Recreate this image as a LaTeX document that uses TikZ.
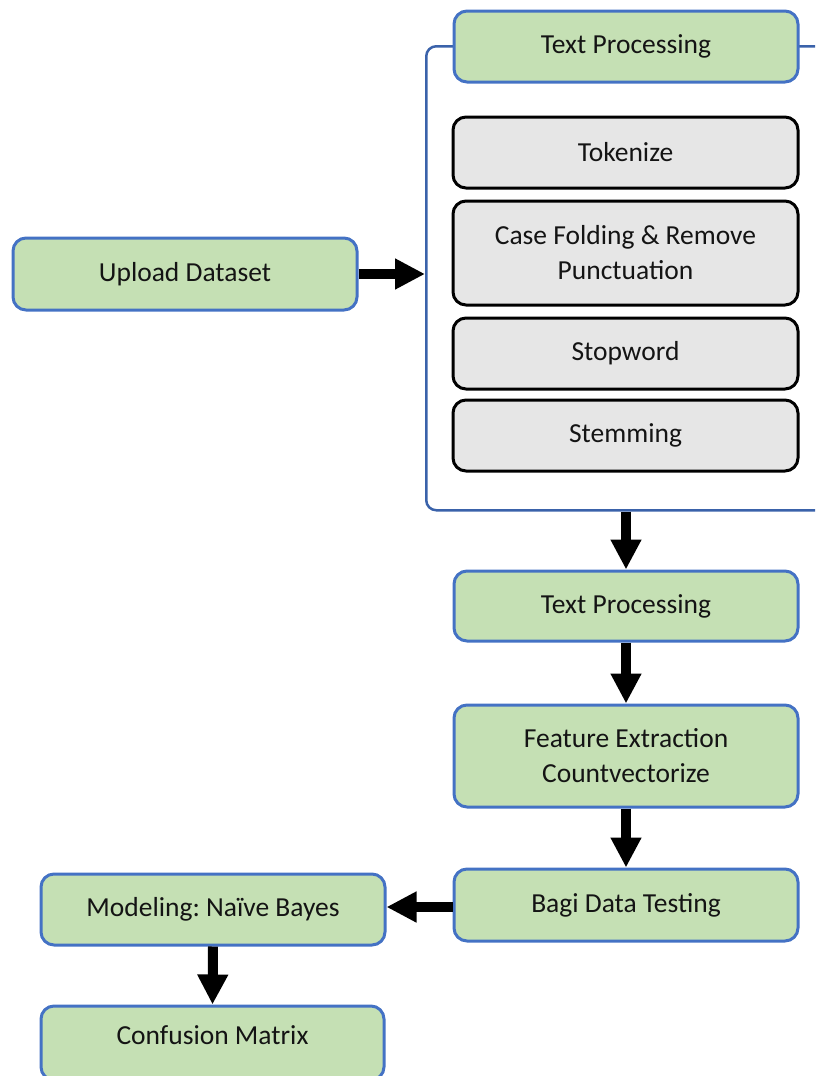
\documentclass[tikz,border=0pt]{standalone}
\usepackage{fontspec}
\setmainfont{Carlito}
\usetikzlibrary{arrows.meta}
\frenchspacing
\definecolor{gfill}{HTML}{C5E0B4}
\definecolor{gborder}{HTML}{4472C4}
\definecolor{cborder}{HTML}{3A62AA}
\definecolor{grfill}{HTML}{E6E6E6}
\tikzset{
  base/.style={rounded corners=13pt, align=center, inner sep=0pt,
    font=\fontsize{27.5}{35}\selectfont\frenchspacing, text=black!92},
  gbox/.style={base, draw=gborder, fill=gfill, line width=3pt, minimum width=344pt},
  graybox/.style={base, draw=black, fill=grfill, line width=3pt, minimum width=345pt},
  container/.style={draw=cborder, line width=2.5pt, rounded corners=10pt, inner sep=0pt},
  bigarrow/.style={line width=10pt, -{Triangle[width=29pt,length=30pt]}, draw=black},
}
\begin{document}
\begin{tikzpicture}[x=1pt,y=-1pt]
\useasboundingbox (0,0) rectangle (815,1076);
\clip (0,0) rectangle (815,1076);
\node[container, anchor=north west, minimum width=420pt, minimum height=464pt] (cont) at (425,45) {};
\node[gbox, minimum height=71pt] (tp1) at (626,46.5) {Text Processing};
\node[graybox, minimum height=71pt] (tok) at (625.5,152.5) {Tokenize};
\node[graybox, minimum height=104pt] (case) at (625.5,253) {Case Folding \& Remove\\Punctuation};
\node[graybox, minimum height=71pt] (stop) at (625.5,353.5) {Stopword};
\node[graybox, minimum height=71pt] (stem) at (625.5,435.5) {Stemming};
\node[gbox, minimum height=72pt] (up) at (185,274) {Upload Dataset};
\node[gbox, minimum height=70pt] (tp2) at (626,606) {Text Processing};
\node[gbox, minimum height=102pt] (fe) at (626,756) {Feature Extraction\\Countvectorize};
\node[gbox, minimum height=72pt] (bagi) at (626,905) {Bagi Data Testing};
\node[gbox, minimum height=71pt] (model) at (213,909.5) {Modeling: Na\"{\i}ve Bayes};
\node[gbox, minimum height=74pt, minimum width=343pt, text height=19pt, text depth=16pt] (conf) at (212.5,1043) {Confusion Matrix};
\draw[bigarrow] (up.east) -- (up.east -| cont.west);
\draw[bigarrow] (cont.south -| tp2.north) -- (tp2.north);
\draw[bigarrow] (tp2.south) -- (fe.north);
\draw[bigarrow] (fe.south) -- (bagi.north);
\draw[bigarrow] (bagi.west |- 0,907) -- (model.east |- 0,907);
\draw[bigarrow] (model.south) -- (conf.north);
\end{tikzpicture}
\end{document}
